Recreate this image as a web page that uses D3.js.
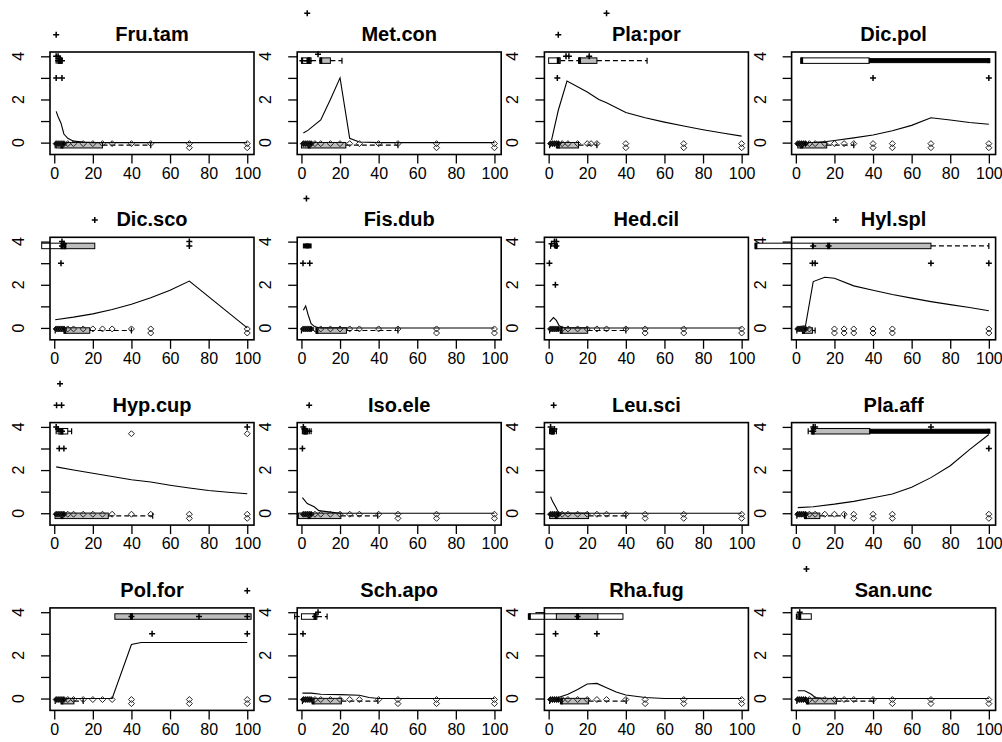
<!DOCTYPE html>
<html>
<head>
<meta charset="utf-8">
<script src="https://cdn.jsdelivr.net/npm/d3@7"></script>
<style>
  body { margin: 0; background: #fff; }
  text { font-family: "Liberation Sans", Arial, sans-serif; }
</style>
</head>
<body>
<div id="chart"></div>
<script>
const width = 1002;
const height = 742;

const panelNames = ["Fru.tam", "Met.con", "Pla:por", "Dic.pol",
                    "Dic.sco", "Fis.dub", "Hed.cil", "Hyl.spl",
                    "Hyp.cup", "Iso.ele", "Leu.sci", "Pla.aff",
                    "Pol.for", "Sch.apo", "Rha.fug", "San.unc"];

const xTicks = [0, 20, 40, 60, 80, 100];
const yTicks = [0, 1, 2, 3, 4];
const yLabels = [0, 2, 4];

// fitted curve per species
const curves = [
  [[1,1.45],[2,1.2],[3.5,0.9],[5,0.4],[7,0.2],[10,0.07],[15,0.03],[20,0],[100,0]],
  [[1,0.45],[3.5,0.58],[10,1.05],[15,2.0],[20,3.0],[25,0.2],[30,0.03],[40,0],[100,0]],
  [[1.5,0.12],[5,1.5],[9.5,2.85],[20,2.35],[26,2.0],[30,1.85],[40,1.4],[50,1.15],[60,0.95],[70,0.77],[80,0.6],[90,0.45],[100,0.3]],
  [[1,0],[10,0.02],[16,0.05],[20,0.1],[30,0.22],[40,0.35],[50,0.55],[60,0.8],[70,1.15],[80,1.05],[90,0.93],[100,0.85]],
  [[0.5,0.38],[10,0.5],[20,0.65],[30,0.85],[40,1.1],[50,1.4],[60,1.75],[70,2.17],[100,0]],
  [[1,0.82],[2.2,1.02],[3.5,0.6],[5,0.2],[7,0.05],[10,0],[100,0]],
  [[0.5,0.28],[2.5,0.48],[4,0.35],[5.5,0.1],[7,0.02],[10,0],[100,0]],
  [[1,0.05],[5,0.1],[9,2.15],[15,2.35],[20,2.3],[30,1.95],[40,1.75],[50,1.55],[60,1.38],[70,1.22],[80,1.08],[90,0.95],[100,0.8]],
  [[1,2.15],[10,2.0],[20,1.85],[30,1.7],[40,1.55],[50,1.45],[60,1.3],[70,1.17],[80,1.05],[90,0.97],[100,0.9]],
  [[0.5,0.72],[3,0.45],[6.6,0.3],[9,0.12],[15,0.05],[20,0],[100,0]],
  [[1,0.77],[2,0.55],[3.6,0.3],[5,0.05],[7,0],[100,0]],
  [[1,0.26],[9,0.3],[20,0.42],[30,0.55],[40,0.72],[50,0.89],[60,1.2],[70,1.65],[80,2.2],[90,2.95],[100,3.65]],
  [[1,0],[30,0],[40,2.5],[45,2.6],[100,2.6]],
  [[0.5,0.25],[5,0.25],[10,0.2],[20,0.18],[30,0.15],[35,0.05],[40,0],[100,0]],
  [[1,0],[5,0.05],[10,0.2],[15,0.42],[20,0.67],[25,0.7],[30,0.5],[35,0.3],[40,0.16],[50,0.05],[60,0],[100,0]],
  [[1,0.36],[4.6,0.36],[8,0.2],[10,0.05],[15,0],[100,0]]
];

// observed abundance classes above zero: [x, class]
const presence = [
  [[1,5],[1,4],[2,4],[3,3.9],[4,3.8],[2,3.8],[1,3],[4,3]],
  [[3,6],[8.6,4.1],[0.5,3.8],[3,3.8],[4,3.8]],
  [[5,5],[30,6],[4.5,3],[9,4],[10.5,4],[21,4]],
  [[40,3],[100,3]],
  [[21,5],[3.5,3],[4,4],[5,3.9],[4,3.8],[70,4],[70,3.8]],
  [[2.6,6],[0.8,3],[4.3,3]],
  [[0.4,3],[3.5,2],[1.5,3.9],[3,4],[4,3.8],[4,4]],
  [[20.7,5],[8.6,3],[10,3],[70,3],[100,3],[9,3.8],[17,3.8]],
  [[3,6],[1.2,5],[3.8,5],[2.6,3],[5,3],[1,4],[2,3.9],[3,3.8],[4,3.8],[100,4]],
  [[4,5],[0.5,3],[1,4],[1.5,3.9],[3,3.8],[4,3.8]],
  [[2.6,5],[1,4],[2,3.8],[3,3.9]],
  [[9,4],[10,4],[9,3.8],[70,4],[100,3]],
  [[100,5],[50.7,3],[100,3],[40,3.8],[75,3.8],[100,3.8]],
  [[0.8,3],[8.6,4],[7,3.8]],
  [[3.6,3],[25,3],[15,3.8]],
  [[5.5,6],[2,4]]
];

// sites where the species was absent
const absent = [
  [1,2,3,4,5,7,10,15,20,25,30,40,50,70,100],
  [1,2,3,4,5,7,10,15,20,25,30,40,50,70,100],
  [1,2,3,4,5,7,10,15,20,22,25,40,70,100],
  [1,2,3,4,5,7,10,15,20,25,30,40,50,70,100],
  [1,2,3,4,5,7,10,15,20,25,30,40,50,100],
  [1,2,3,4,5,7,10,15,20,25,30,40,50,70,100],
  [1,2,3,4,5,7,10,15,20,25,30,40,50,70,100],
  [1,2,3,4,5,7,20,25,30,40,50,100],
  [1,2,3,4,5,7,10,15,20,25,30,40,50,70,100],
  [1,2,3,4,5,7,10,15,20,25,30,40,50,70,100],
  [1,2,3,4,5,7,10,15,20,25,30,40,50,70,100],
  [1,2,3,4,5,7,10,15,20,25,30,40,50,100],
  [1,2,3,4,5,7,10,15,20,25,30,40,70,100],
  [1,2,3,4,5,7,10,15,20,25,30,40,50,70,100],
  [1,2,3,4,5,7,10,15,20,25,30,40,50,70,100],
  [1,2,3,4,5,7,10,15,20,25,30,40,50,70,100]
];

// horizontal boxplots: [level, lo, q1, median, q3, hi, kind]
const boxStats = [
  [[-0.12,0.5,1,4,25,50,"gray"], [3.8,1,2,3,4,4,"open"]],
  [[-0.12,0,0,4,23,50,"gray"], [3.8,0,0,4,5,10,"open"], [3.8,10,10,10,15,21,"gray"]],
  [[-0.12,0.5,4,5,15.5,25,"gray"], [3.8,0,0,5,6,16,"open"], [3.8,16,16,16,25,51,"gray"]],
  [[-0.12,1,1,3,16,30,"gray"], [3.8,3,3,3,38,38,"open"], [3.8,38,38,100,100,100,"solid"]],
  [[-0.12,0.5,5.5,5.5,18.4,40,"gray"], [3.8,-6.5,-6.5,4,5.5,5.5,"open"], [3.8,5.5,5.5,5.5,21,21,"gray"]],
  [[-0.12,0,7.8,8,23.3,50,"gray"], [3.8,1,1,3,5,5,"solid"]],
  [[-0.12,0.5,6.4,6.5,20.2,40,"gray"], [3.8,1,3,4,4.5,4.5,"solid"]],
  [[-0.12,0.5,3.4,4,8.6,10,"gray"], [3.8,-20.7,-20.7,-20.7,8.6,8.6,"open"], [3.8,8.6,8.6,17,70,100,"gray"]],
  [[-0.12,0.4,0.4,4,28,51,"gray"], [3.8,1,2,4,7,9,"open"]],
  [[-0.12,-1.6,-1.6,4,20.4,39.5,"gray"], [3.8,0.5,1,2,3,5,"open"]],
  [[-0.12,0.5,0.5,4,20.7,40,"gray"], [3.8,0.5,1,2,3,4,"open"]],
  [[-0.12,0.5,4.7,5,12.4,25.3,"gray"], [3.8,6.4,8,9,38.3,38.3,"gray"], [3.8,38.3,38.3,100,100,100,"solid"]],
  [[-0.12,0.5,3.8,4,10.2,15,"gray"], [3.8,31.4,31.4,40,102,102,"gray"]],
  [[-0.12,0.5,6,6,20.7,39.6,"gray"], [3.8,-3.5,0,7,8,13.3,"open"]],
  [[-0.12,0.5,6.6,6.6,20.7,40.2,"gray"], [3.8,-10,-10,-10,38.5,38.5,"open"], [3.8,4,4,15,25.5,25.5,"gray"]],
  [[-0.12,0.5,5.8,6,21,40.3,"gray"], [3.8,0.3,1,2,8,8,"open"]]
];

// boxplot outliers: [x, level]
const boxOutliers = [
  [[70,-0.12],[100,-0.12]],
  [[70,-0.12],[100,-0.12]],
  [[40,-0.12],[70,-0.12],[100,-0.12]],
  [[40,-0.12],[50,-0.12],[70,-0.12],[100,-0.12]],
  [[50,-0.12],[100,-0.12]],
  [[70,-0.12],[100,-0.12]],
  [[50,-0.12],[70,-0.12],[100,-0.12]],
  [[20,-0.12],[25,-0.12],[30,-0.12],[40,-0.12],[50,-0.12],[100,-0.12]],
  [[70,-0.12],[100,-0.12],[40,3.8],[100,3.8]],
  [[50,-0.12],[70,-0.12],[100,-0.12]],
  [[50,-0.12],[70,-0.12],[100,-0.12]],
  [[30,-0.12],[40,-0.12],[50,-0.12],[100,-0.12]],
  [[40,-0.12],[70,-0.12],[100,-0.12]],
  [[50,-0.12],[70,-0.12],[100,-0.12]],
  [[50,-0.12],[70,-0.12],[100,-0.12]],
  [[50,-0.12],[70,-0.12],[100,-0.12]]
];

const boxFill = {gray: "#bdbdbd", open: "#ffffff", solid: "#000000"};

const panel = {left: 50, top: 52, w: 204, h: 102.5, dx: 247.2, dy: 185.3};

const svg = d3.select("#chart").append("svg")
    .attr("width", width)
    .attr("height", height);

const x = d3.scaleLinear().domain([-2.2, 103.5]).range([0, panel.w]);
const y = d3.scaleLinear().domain([-0.55, 4.2]).range([panel.h, 0]);

const line = d3.line().x(d => x(d[0])).y(d => y(d[1]));
const diamond = "M0,-3L3,0L0,3L-3,0Z";
const plus = "M-3,0H3M0,-3V3";

panelNames.forEach(function(name, i) {
    const col = i % 4, row = Math.floor(i / 4);
    const g = svg.append("g")
        .attr("transform", `translate(${panel.left + col * panel.dx},${panel.top + row * panel.dy})`);

    // axes
    const xAxis = g.append("g")
        .attr("transform", `translate(0,${panel.h})`)
        .call(d3.axisBottom(x).tickValues(xTicks).tickSize(9).tickSizeOuter(0).tickPadding(4));
    xAxis.selectAll("text").attr("font-size", 16).attr("fill", "#000")
        .style("font-family", "'Liberation Sans', Arial, sans-serif");

    g.append("g")
        .call(d3.axisLeft(y).tickValues(yTicks).tickSize(9).tickSizeOuter(0).tickFormat(""));
    g.selectAll(".domain").remove();
    g.selectAll(".tick line").attr("stroke", "#000").attr("stroke-width", 1.3);

    // y labels written parallel to the axis
    g.selectAll(".ylab")
        .data(yLabels)
        .enter().append("g")
        .attr("class", "ylab")
        .attr("transform", d => `translate(-26,${y(d)})`)
        .append("text")
        .attr("transform", "rotate(-90)")
        .attr("text-anchor", "middle")
        .attr("font-size", 16)
        .attr("fill", "#000")
        .text(d => d);

    // boxplots
    boxStats[i].forEach(function(b) {
        const [lvl, lo, q1, med, q3, hi, kind] = b;
        const cy = y(lvl);
        const bh = kind === "solid" ? 4 : 5.5;
        const bg = g.append("g");
        bg.append("line")
            .attr("x1", x(lo)).attr("x2", x(q1)).attr("y1", cy).attr("y2", cy)
            .attr("stroke", "#000").attr("stroke-width", 1.2).attr("stroke-dasharray", "5,3");
        bg.append("line")
            .attr("x1", x(q3)).attr("x2", x(hi)).attr("y1", cy).attr("y2", cy)
            .attr("stroke", "#000").attr("stroke-width", 1.2).attr("stroke-dasharray", "5,3");
        [lo, hi].forEach(v => {
            if (v !== q1 && v !== q3) {
                bg.append("line")
                    .attr("x1", x(v)).attr("x2", x(v)).attr("y1", cy - 3).attr("y2", cy + 3)
                    .attr("stroke", "#000").attr("stroke-width", 1.2);
            }
        });
        bg.append("rect")
            .attr("x", x(q1)).attr("y", cy - bh / 2)
            .attr("width", Math.max(0.5, x(q3) - x(q1))).attr("height", bh)
            .attr("fill", boxFill[kind]).attr("stroke", "#000").attr("stroke-width", 1);
        bg.append("rect")
            .attr("x", x(med) - 1.5).attr("y", cy - bh / 2 - 0.5)
            .attr("width", 3).attr("height", bh + 1)
            .attr("fill", "#000");
    });

    // fitted curve
    g.append("path")
        .datum(curves[i])
        .attr("d", line)
        .attr("fill", "none")
        .attr("stroke", "#000")
        .attr("stroke-width", 1.1);

    // absences (the crowded low-density sites overplot into a dark blob)
    g.selectAll(".abs")
        .data(absent[i])
        .enter().append("path")
        .attr("class", "abs")
        .attr("d", diamond)
        .attr("transform", d => `translate(${x(d)},${y(0) + 1})`)
        .attr("fill", d => d <= 5 ? "#000" : "none")
        .attr("stroke", "#222")
        .attr("stroke-width", 1);

    // outliers
    g.selectAll(".out")
        .data(boxOutliers[i])
        .enter().append("path")
        .attr("class", "out")
        .attr("d", diamond)
        .attr("transform", d => `translate(${x(d[0])},${y(d[1]) + 2.5})`)
        .attr("fill", "none")
        .attr("stroke", "#222")
        .attr("stroke-width", 1);

    // presences
    g.selectAll(".pres")
        .data(presence[i])
        .enter().append("path")
        .attr("class", "pres")
        .attr("d", plus)
        .attr("transform", d => `translate(${x(d[0])},${y(d[1])})`)
        .attr("fill", "none")
        .attr("stroke", "#000")
        .attr("stroke-width", 1.5);

    // frame
    g.append("rect")
        .attr("width", panel.w).attr("height", panel.h)
        .attr("fill", "none").attr("stroke", "#000").attr("stroke-width", 1.6);

    g.append("text")
        .attr("x", panel.w / 2)
        .attr("y", -11)
        .attr("text-anchor", "middle")
        .attr("font-size", 20)
        .attr("font-weight", "bold")
        .text(name);
});
</script>
</body>
</html>
